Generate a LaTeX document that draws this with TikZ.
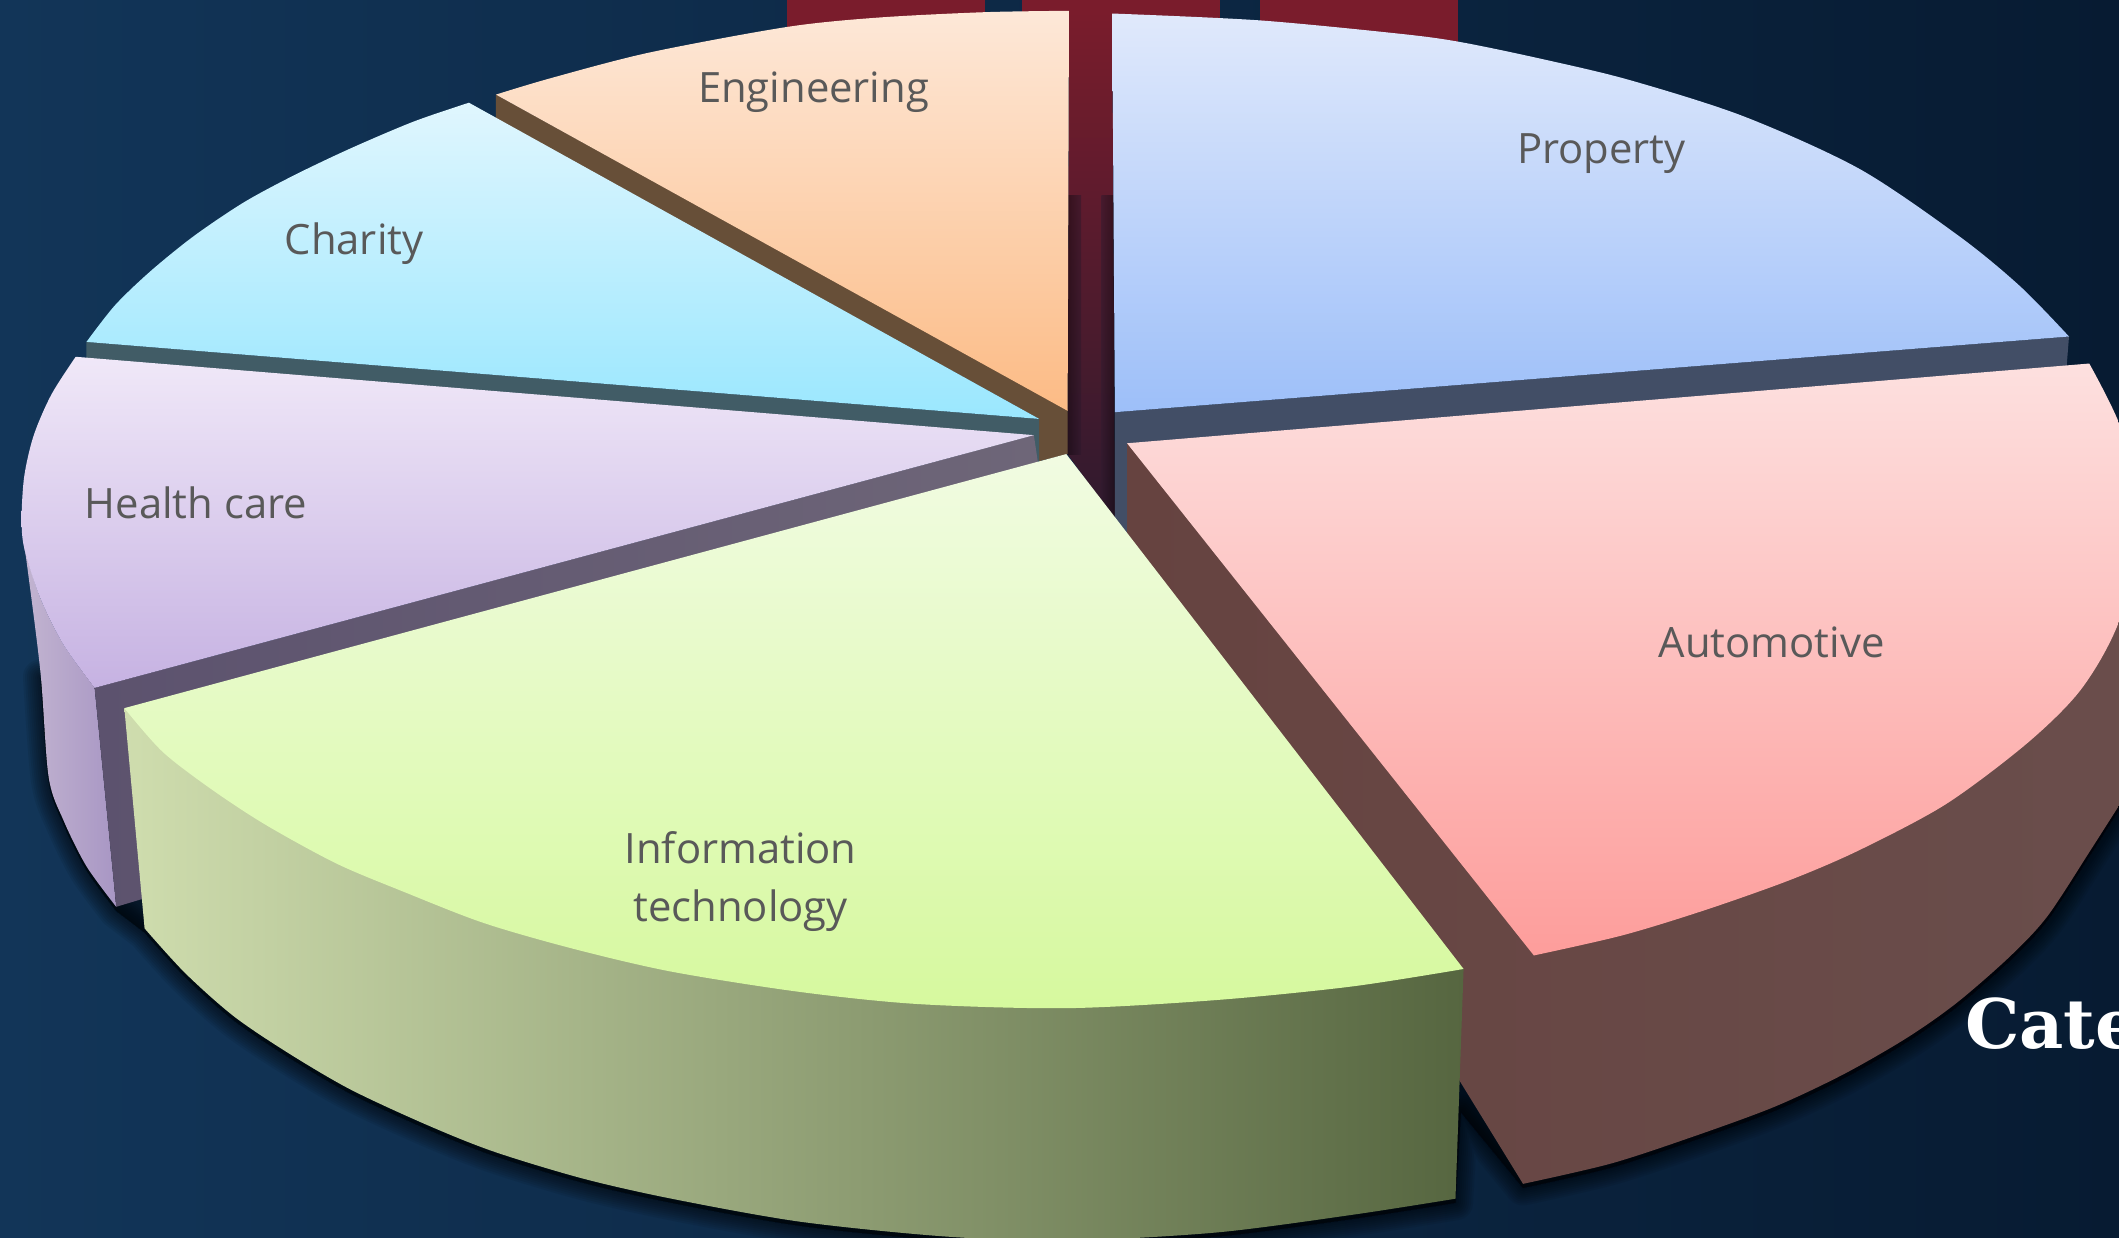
\documentclass[tikz,border=0pt]{standalone}
\usepackage{fontspec}
\setmainfont{Open Sans}
\newfontfamily\slabfont{DejaVu Serif}
\definecolor{bgL}{HTML}{123558}
\definecolor{bgM}{HTML}{0A2340}
\definecolor{bgR}{HTML}{071B32}
\definecolor{barred}{HTML}{7A1C2C}
\definecolor{gapbot}{HTML}{2F1A2E}
\definecolor{labelgrey}{HTML}{595959}
\tikzset{
  x=0.05cm,y=-0.05cm,
  slicelabel/.style={text=labelgrey,font=\fontsize{44}{61}\selectfont,align=center},
  topface/.style 2 args={top color=#1,bottom color=#2,draw=none},
  softshadow/.style={draw=black,fill=black,opacity=0.07,line join=round}
}
\definecolor{engT}{HTML}{FDE8D8}\definecolor{engB}{HTML}{FCBB85}\definecolor{engW}{HTML}{674F38}
\definecolor{chaT}{HTML}{E0F6FE}\definecolor{chaB}{HTML}{9AE7FE}\definecolor{chaW}{HTML}{415C66}
\definecolor{heaT}{HTML}{F0E8F8}\definecolor{heaB}{HTML}{C6B2E2}
\definecolor{heaOL}{HTML}{C2B4D0}\definecolor{heaOR}{HTML}{A896C4}
\definecolor{heaWL}{HTML}{5C526E}\definecolor{heaWR}{HTML}{6E6678}
\definecolor{proT}{HTML}{E0E9FB}\definecolor{proB}{HTML}{9DBFF9}\definecolor{proW}{HTML}{424E66}
\definecolor{autT}{HTML}{FDE0DF}\definecolor{autB}{HTML}{FD9D9B}\definecolor{autWL}{HTML}{664340}\definecolor{autWR}{HTML}{6A4E4C}
\definecolor{infT}{HTML}{F1FBE2}\definecolor{infB}{HTML}{D6F99E}
\definecolor{infL}{HTML}{CFDDAE}\definecolor{infM}{HTML}{8FAC6E}\definecolor{infR}{HTML}{566640}
\begin{document}
\begin{tikzpicture}
\useasboundingbox (0,0) rectangle (1568,916);
\clip (0,0) rectangle (1568,916);
% background
\shade[left color=bgL,middle color=bgM,right color=bgR] (0,0) rectangle (1568,916);
% red bars behind the pie
\fill[barred] (582,0) rectangle (729,40);
\fill[barred] (756,0) rectangle (903,40);
\fill[barred] (932,0) rectangle (1079,40);
% soft shadow below the pie
\foreach \w in {2,5,8,11,14,17,20,23,26}{
  \path[softshadow,line width=\w*0.05cm,yshift=-0.15cm]
    (30,498) -- plot[smooth] coordinates {(30,498) (36,575) (47,607) (64,641) (86,671)}
    -- (107,687) -- plot[smooth] coordinates {(107,687) (137,720) (173,752) (213,779) (259,806) (315,832) (365,852) (431,872) (497,887) (592,904) (700,915) (790,918) (900,912) (1000,899) (1077,887)}
    -- (1081,820) -- (1127,876) -- plot[smooth] coordinates {(1127,876) (1192,861) (1253,841) (1313,819) (1364,795) (1411,768) (1448,742) (1487,708) (1515,678) (1547,629) (1575,585)}
    -- (1000,500) -- cycle;
}
% central gap
\shade[top color=barred,bottom color=gapbot] (791,8) -- (823,10) -- (825,385) -- (790,336) -- cycle;
\shade[left color=black!70!gapbot,right color=gapbot,opacity=0.5] (790,145) rectangle (800,336);
\shade[left color=gapbot,right color=black!70!gapbot,opacity=0.5] (815,145) rectangle (825,385);
% Engineering
\fill[engW] (367,70) -- (790,303) -- (790,336) -- (766,342) -- (769,310) -- (367,88) -- cycle;
\shade[topface={engT}{engB}]
  (791,8) -- plot[smooth] coordinates {(791,8) (729,9) (650,13) (582,20) (480,39) (407,58) (367,70)} -- (790,304) -- cycle;
% Charity
\fill[chaW] (64,253) -- (769,310) -- (769,342) -- (64,266) -- cycle;
\shade[topface={chaT}{chaB}]
  (347,76) -- plot[smooth] coordinates {(347,76) (306,90) (259,110) (217,130) (180,150) (143,175) (111,201) (85,226) (64,253)} -- (769,310) -- cycle;
% Health care
\shade[left color=heaOL,right color=heaOR]
  (18,406) -- plot[smooth] coordinates {(18,406) (20,418) (30,498) (36,575) (47,607) (64,641) (86,671)} -- (70,509)
  -- plot[smooth] coordinates {(70,509) (47,477) (30,443) (18,406)} -- cycle;
\shade[left color=heaWL,right color=heaWR]
  (70,509) -- (765,322) -- (768,342) -- (106,665) -- (86,671) -- cycle;
\shade[topface={heaT}{heaB}]
  (56,264) -- plot[smooth] coordinates {(56,264) (38,292) (25,322) (18,352) (16,383) (18,406) (30,443) (47,477) (70,509)} -- (765,322) -- cycle;
% Property
\fill[proW] (825,305) -- (1531,249) -- (1529,274) -- (834,332) -- (834,400) -- (825,400) -- cycle;
\shade[topface={proT}{proB}]
  (823,10) -- plot[smooth] coordinates {(823,10) (931,15) (1036,25) (1080,31) (1138,43) (1205,59) (1290,86) (1376,125) (1450,175) (1495,212) (1531,249)} -- (825,305) -- cycle;
% Automotive
\shade[left color=autWL,right color=autWR] (834,328) -- (834,400) -- (1127,876)
  -- plot[smooth] coordinates {(1127,876) (1192,861) (1253,841) (1313,819) (1364,795) (1411,768) (1448,742) (1487,708) (1515,678) (1547,629) (1575,585)} -- (1600,400) -- cycle;
\shade[topface={autT}{autB}]
  (834,328) -- (1546,269) -- plot[smooth] coordinates {(1546,269) (1568,313) (1590,380) (1568,460) (1540,510) (1500,550) (1440,595) (1376,629) (1325,651) (1263,673) (1201,692) (1135,707)} -- cycle;
% Information technology
\shade[left color=infL,middle color=infM,right color=infR]
  (92,524) -- (107,687) -- plot[smooth] coordinates {(107,687) (137,720) (173,752) (213,779) (259,806) (315,832) (365,852) (431,872) (497,887) (592,904) (700,915) (790,918) (900,912) (1000,899) (1077,887)}
  -- (1083,717) -- cycle;
\shade[topface={infT}{infB}]
  (789,336) -- (1083,717) -- plot[smooth] coordinates {(1083,717) (1000,730) (900,740) (790,746) (680,743) (592,734) (497,719) (424,702) (358,683) (299,660) (249,639) (196,610) (155,583) (120,556) (92,524)} -- cycle;
% labels
\node[slicelabel] (prop) at (1185,114) {Property};
\node[slicelabel] (auto) at (1311,475) {Automotive};
\node[slicelabel] (eng) at (602,68) {Engineering};
\node[slicelabel] (char) at (262,180) {Charity};
\node[slicelabel] (health) at (145,372) {Health care};
\node[slicelabel] (info) at (548,652) {Information\\technology};
\node[anchor=base west,text=white,inner sep=0pt,font=\slabfont\bfseries\fontsize{72}{72}\selectfont] (cat) at (1454,776) {Cate};
\end{tikzpicture}
\end{document}
